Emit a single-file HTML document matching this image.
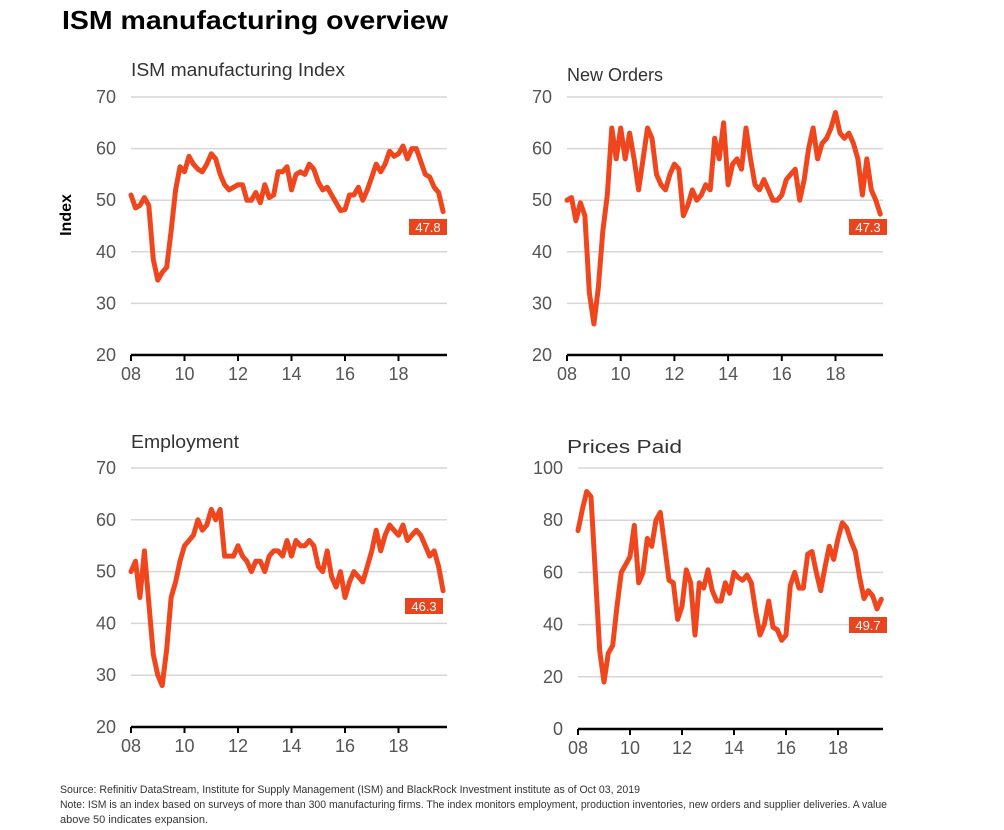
<!DOCTYPE html>
<html><head><meta charset="utf-8">
<style>
body{margin:0;background:#fff;font-family:"Liberation Sans",sans-serif;}
#wrap{position:relative;width:1004px;height:830px;overflow:hidden;}
svg text{font-family:"Liberation Sans",sans-serif;}
</style></head>
<body>
<div id="wrap">
<svg id="svg" width="1004" height="830">
<text x="62" y="29" font-size="26" font-weight="bold" fill="#000" textLength="386" lengthAdjust="spacingAndGlyphs">ISM manufacturing overview</text>
<text transform="translate(71,215) rotate(-90)" text-anchor="middle" font-size="16" font-weight="bold" fill="#000">Index</text>
<text x="60" y="793" font-size="11" fill="#333" textLength="580" lengthAdjust="spacingAndGlyphs">Source: Refinitiv DataStream, Institute for Supply Management (ISM) and BlackRock Investment institute as of Oct 03, 2019</text>
<text x="60" y="808" font-size="11" fill="#333" textLength="827" lengthAdjust="spacingAndGlyphs">Note: ISM is an index based on surveys of more than 300 manufacturing firms. The index monitors employment, production inventories, new orders and supplier deliveries. A value</text>
<text x="60" y="823" font-size="11" fill="#333">above 50 indicates expansion.</text>
</svg>
</div>
<script>
const xTickLabels=["08","10","12","14","16","18"];
const xTickYears=[2008,2010,2012,2014,2016,2018];
const startYear=2008, stepYears=1/6;
const ismValues=[51,48.5,49,50.5,49,38.5, 34.5,36,37,44,52,56.5, 55.5,58.5,57,56,55.5,57, 59,58,55,53,52,52.5, 53,53,50,50,51.5,49.5, 53,50.5,51,55.5,55.5,56.5, 52,55,55.5,55,57,56, 53.5,52,52.5,51,49.5,48, 48.2,51,51,52.5,50,52, 54.5,57,55.5,57,59.5,58.5, 59,60.5,58,60,60,57.5, 55,54.5,52.5,51.5,47.8];
const newOrdersValues=[50,50.5,46,49.5,47,32, 26,33,44,51,64,58, 64,58,63,58,52,58, 64,62,55,53,52,55, 57,56,47,49,52,50, 51,53,52,62,58,65, 53,57,58,56,64,58, 53,52,54,52,50,50, 51,54,55,56,50,54, 60,64,58,61,62,64, 67,63,62,63,61,58, 51,58,52,50,47.3];
const employmentValues=[50,52,45,54,44,34, 30,28,35,45,48,52, 55,56,57,60,58,59, 62,60,62,53,53,53, 55,53,52,50,52,52, 50,53,54,54,53,56, 53,56,55,55,56,55, 51,50,54,49,47,50, 45,48,50,49,48,51, 54,58,54,57,59,58, 57,59,56,57,58,57, 55,53,54,51,46.3];
const pricesValues=[76,84,91,89,60,30, 18,29,32,47,60,63, 66,78,56,60,73,70, 80,83,70,57,56,42, 47,61,56,36,56,54, 61,53,49,49,56,52, 60,58,57,59,56,45, 36,40,49,39,38,34, 36,55,60,54,54,67, 68,60,53,62,70,65, 73,79,77,72,68,58, 50,53,51,46,49.7];
const yTicksA=[20,30,40,50,60,70];
const yTicksP=[0,20,40,60,80,100];
const lastLabels=["47.8","47.3","46.3","49.7"];

const NS="http://www.w3.org/2000/svg";
const svg=document.getElementById('svg');
function mk(tag,attrs,parent){const e=document.createElementNS(NS,tag);for(const k in attrs)e.setAttribute(k,attrs[k]);(parent||svg).appendChild(e);return e;}

const panels=[
 {key:'ism',title:'ISM manufacturing Index',tw:214,tx:131,ty:76,x0:131,x1:447,xs:26.75,yTop:97,yBot:355,ticks:yTicksA,vals:ismValues,lab:lastLabels[0],bx:409,by:219},
 {key:'new-orders',title:'New Orders',tw:96,tx:567,ty:81,x0:567,x1:883,xs:26.85,yTop:97,yBot:355,ticks:yTicksA,vals:newOrdersValues,lab:lastLabels[1],bx:849,by:219},
 {key:'employment',title:'Employment',tw:108,tx:131,ty:448,x0:131,x1:447,xs:26.75,yTop:468,yBot:727,ticks:yTicksA,vals:employmentValues,lab:lastLabels[2],bx:405,by:598},
 {key:'prices-paid',title:'Prices Paid',tw:115,tx:567,ty:453,x0:578,x1:883,xs:26.0,yTop:468,yBot:729,ticks:yTicksP,vals:pricesValues,lab:lastLabels[3],bx:849,by:617}
];
panels.forEach(p=>{
 const g=mk('g',{});
 
 
 const tmin=p.ticks[0],tmax=p.ticks[p.ticks.length-1];
 const yS=v=>p.yBot-(v-tmin)/(tmax-tmin)*(p.yBot-p.yTop);
 const xS=t=>p.x0+(t-startYear)*p.xs;
 const t=mk('text',{x:p.tx,y:p.ty,'font-size':18,fill:'#333',textLength:p.tw,lengthAdjust:'spacingAndGlyphs'},g);t.textContent=p.title;
 
 
 p.ticks.forEach((v,i)=>{
  if(i>0){const l=mk('line',{x1:p.x0,x2:p.x1,y1:yS(v),y2:yS(v),stroke:'#d6d6d6','stroke-width':1.5},g);
   
   }
  const tl=mk('text',{x:p.x0-15,y:yS(v)+6,'text-anchor':'end','font-size':18,fill:'#555'},g);tl.textContent=v;
  
  
 });
 const ax=mk('line',{x1:p.x0,x2:p.x1,y1:p.yBot,y2:p.yBot,stroke:'#000','stroke-width':2.5},g);
 
 
 xTickYears.forEach((yr,i)=>{
  const x=xS(yr);
  mk('line',{x1:x,x2:x,y1:p.yBot,y2:p.yBot+6,stroke:'#000','stroke-width':2},g);
  const tl=mk('text',{x:x,y:p.yBot+25,'text-anchor':'middle','font-size':18,fill:'#555'},g);tl.textContent=xTickLabels[i];
  
  
 });
 const pts=p.vals.map((v,i)=>xS(startYear+i*stepYears).toFixed(1)+','+yS(v).toFixed(1)).join(' ');
 const pl=mk('polyline',{points:pts,fill:'none',stroke:'#f0461e','stroke-width':5,'stroke-linejoin':'round','stroke-linecap':'round'},g);
 
 
 const r=mk('rect',{x:p.bx,y:p.by,width:38,height:16,fill:'#e8451f'},g);
 
 
 const lt=mk('text',{x:p.bx+19,y:p.by+13,'text-anchor':'middle','font-size':13,fill:'#fff'},g);lt.textContent=p.lab;
 
 
});
</script>
</body></html>
